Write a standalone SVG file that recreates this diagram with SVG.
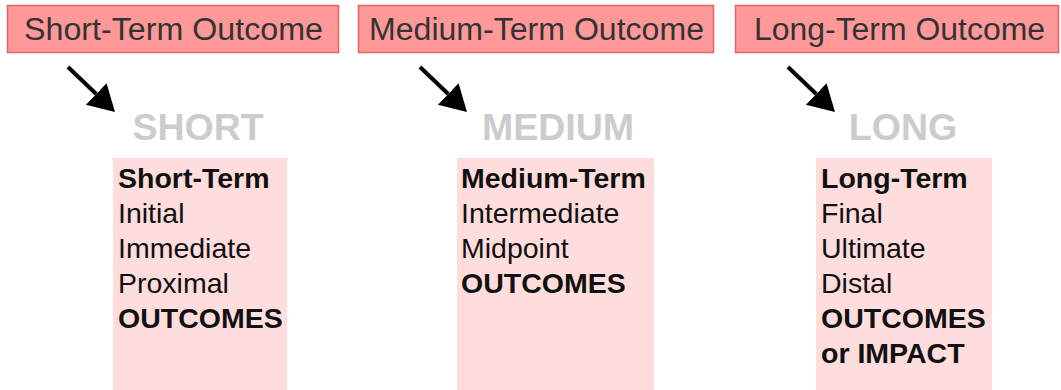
<svg xmlns="http://www.w3.org/2000/svg" width="1061" height="390" viewBox="0 0 1061 390">
  <style>
    .title-box { fill: #ff9999; stroke: #e06666; stroke-width: 1.5; }
    .title { font-family: "Liberation Sans", Arial, sans-serif; font-size: 31px; fill: #333333; text-anchor: middle; }
    .big { font-family: "Liberation Sans", Arial, sans-serif; font-size: 37.5px; font-weight: bold; fill: #cccccc; text-anchor: middle; }
    .list-box { fill: #ffdddd; }
    .list { font-family: "Liberation Sans", Arial, sans-serif; font-size: 28.5px; fill: #111111; }
    .b { font-weight: bold; }
    .arrow { stroke: #000000; stroke-width: 4; fill: none; marker-end: url(#head); }
  </style>
  <defs>
    <marker id="head" markerUnits="userSpaceOnUse" markerWidth="28" markerHeight="32" refX="0" refY="15" orient="auto" viewBox="0 0 28 32">
      <path d="M0,0 L26,15 L0,30 Z" fill="#000000"/>
    </marker>
  </defs>
  <rect width="1061" height="390" fill="#ffffff"/>

  <g id="short-title">
    <rect class="title-box" x="7.5" y="5.5" width="331" height="47"/>
    <text class="title" x="173.5" y="39.5" textLength="299" lengthAdjust="spacingAndGlyphs">Short-Term Outcome</text>
  </g>
  <g id="medium-title">
    <rect class="title-box" x="358.5" y="5.5" width="355" height="47"/>
    <text class="title" x="536.5" y="39.5" textLength="335" lengthAdjust="spacingAndGlyphs">Medium-Term Outcome</text>
  </g>
  <g id="long-title">
    <rect class="title-box" x="735.5" y="5.5" width="323" height="47"/>
    <text class="title" x="899.5" y="39.5" textLength="291" lengthAdjust="spacingAndGlyphs">Long-Term Outcome</text>
  </g>

  <g id="short-label"><text class="big" x="198" y="140">SHORT</text></g>
  <g id="medium-label"><text class="big" x="558" y="140">MEDIUM</text></g>
  <g id="long-label"><text class="big" x="903" y="140">LONG</text></g>

  <g id="short-list">
    <rect class="list-box" x="113" y="158" width="174" height="232"/>
    <text class="list b" x="118" y="188">Short-Term</text>
    <text class="list" x="118" y="223">Initial</text>
    <text class="list" x="118" y="258">Immediate</text>
    <text class="list" x="118" y="293">Proximal</text>
    <text class="list b" x="118" y="328">OUTCOMES</text>
  </g>
  <g id="medium-list">
    <rect class="list-box" x="457" y="158" width="197" height="232"/>
    <text class="list b" x="461" y="188">Medium-Term</text>
    <text class="list" x="461" y="223">Intermediate</text>
    <text class="list" x="461" y="258">Midpoint</text>
    <text class="list b" x="461" y="293">OUTCOMES</text>
  </g>
  <g id="long-list">
    <rect class="list-box" x="816" y="158" width="176" height="232"/>
    <text class="list b" x="821" y="188">Long-Term</text>
    <text class="list" x="821" y="223">Final</text>
    <text class="list" x="821" y="258">Ultimate</text>
    <text class="list" x="821" y="293">Distal</text>
    <text class="list b" x="821" y="328">OUTCOMES</text>
    <text class="list b" x="821" y="363">or IMPACT</text>
  </g>

  <g id="connectors">
    <line class="arrow" x1="68" y1="67" x2="96.2" y2="94"/>
    <line class="arrow" x1="420" y1="67" x2="448.2" y2="94"/>
    <line class="arrow" x1="788" y1="67" x2="816.2" y2="94"/>
  </g>
</svg>
